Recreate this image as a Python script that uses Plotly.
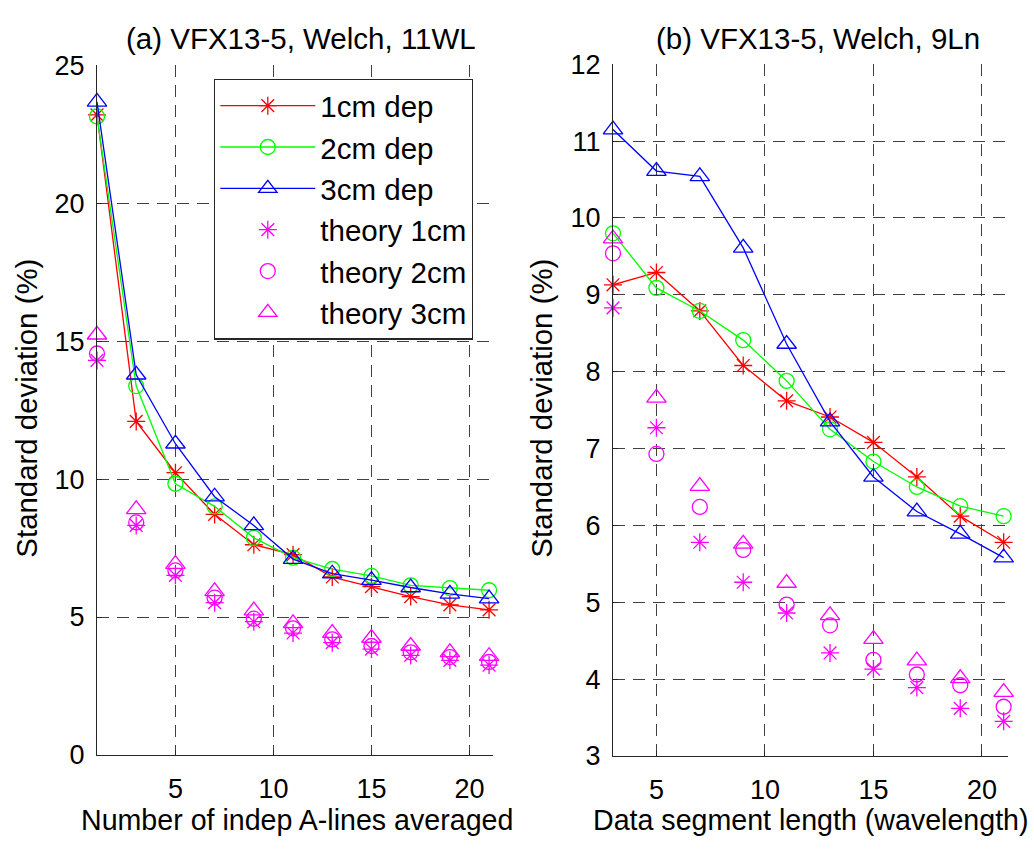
import plotly.graph_objects as go

# ---------------- data ----------------
x_a = [1, 3, 5, 7, 9, 11, 13, 15, 17, 19, 21]
dep1_a = [23.2, 12.09, 10.23, 8.72, 7.62, 7.26, 6.45, 6.10, 5.74, 5.44, 5.26]
dep2_a = [23.14, 13.37, 9.83, 9.01, 7.87, 7.15, 6.74, 6.49, 6.15, 6.05, 5.97]
dep3_a = [23.67, 13.78, 11.28, 9.36, 8.32, 7.10, 6.57, 6.34, 6.07, 5.84, 5.67]
th1_a = [14.30, 8.32, 6.51, 5.52, 4.83, 4.42, 4.07, 3.84, 3.61, 3.43, 3.26]
th2_a = [14.55, 8.43, 6.69, 5.70, 4.94, 4.59, 4.19, 3.95, 3.72, 3.55, 3.37]
th3_a = [15.23, 8.90, 6.92, 5.93, 5.23, 4.77, 4.42, 4.24, 3.95, 3.72, 3.58]

x_b = [3, 5, 7, 9, 11, 13, 15, 17, 19, 21]
dep1_b = [9.13, 9.29, 8.79, 8.08, 7.62, 7.41, 7.08, 6.63, 6.12, 5.78]
dep2_b = [9.80, 9.09, 8.79, 8.41, 7.88, 7.25, 6.83, 6.50, 6.25, 6.12]
dep3_b = [11.15, 10.61, 10.54, 9.61, 8.36, 7.35, 6.63, 6.18, 5.89, 5.58]
th1_b = [8.83, 7.27, 5.78, 5.26, 4.86, 4.34, 4.13, 3.89, 3.62, 3.45]
th2_b = [9.54, 6.93, 6.24, 5.68, 4.97, 4.70, 4.25, 4.06, 3.92, 3.64]
th3_b = [9.73, 7.66, 6.51, 5.76, 5.25, 4.83, 4.52, 4.24, 4.01, 3.83]

names = ["1cm dep", "2cm dep", "3cm dep", "theory 1cm", "theory 2cm", "theory 3cm"]
titles = ["(a) VFX13-5, Welch, 11WL", "(b) VFX13-5, Welch, 9Ln"]
xtitles = ["Number of indep A-lines averaged", "Data segment length (wavelength)"]
ytitle = "Standard deviation (%)"
yticks_a = [0, 5, 10, 15, 20, 25]
yticks_b = [3, 4, 5, 6, 7, 8, 9, 10, 11, 12]
xticks = [5, 10, 15, 20]

# ---------------- style ----------------
W, H = 1034, 852
FONT = "Liberation Sans, Arial, Helvetica, sans-serif"
RED, GREEN, BLUE, MAG = "#ff0000", "#00ff00", "#0000ff", "#ff00ff"
styles = [
    dict(color=RED, symbol="asterisk-open", size=15, mode="lines+markers"),
    dict(color=GREEN, symbol="circle-open", size=15, mode="lines+markers"),
    dict(color=BLUE, symbol="triangle-up-open", size=17, mode="lines+markers"),
    dict(color=MAG, symbol="asterisk-open", size=15, mode="markers"),
    dict(color=MAG, symbol="circle-open", size=15, mode="markers"),
    dict(color=MAG, symbol="triangle-up-open", size=17, mode="markers"),
]

fig = go.Figure()
series_a = [dep1_a, dep2_a, dep3_a, th1_a, th2_a, th3_a]
series_b = [dep1_b, dep2_b, dep3_b, th1_b, th2_b, th3_b]
for i, (ya, st) in enumerate(zip(series_a, styles)):
    fig.add_trace(go.Scatter(
        x=x_a, y=ya, name=names[i], mode=st["mode"],
        line=dict(color=st["color"], width=1.3),
        marker=dict(symbol=st["symbol"], size=st["size"], color=st["color"],
                    line=dict(color=st["color"], width=1.3)),
        xaxis="x", yaxis="y", showlegend=True, cliponaxis=False))
for i, (yb, st) in enumerate(zip(series_b, styles)):
    fig.add_trace(go.Scatter(
        x=x_b, y=yb, name=names[i], mode=st["mode"],
        line=dict(color=st["color"], width=1.3),
        marker=dict(symbol=st["symbol"], size=st["size"], color=st["color"],
                    line=dict(color=st["color"], width=1.3)),
        xaxis="x2", yaxis="y2", showlegend=False, cliponaxis=False))

def px(v):
    return v / W

def py(v):
    return 1 - v / H

axis_common = dict(
    showline=True, linecolor="#262626", linewidth=1.3,
    ticks="inside", ticklen=5, tickcolor="#262626", tickwidth=1,
    showgrid=True, gridcolor="#404040", gridwidth=1.3, griddash="12px,8px",
    zeroline=False, tickfont=dict(family=FONT, size=27, color="black"),
    mirror=False,
)

fig.update_layout(
    width=W, height=H,
    margin=dict(l=0, r=0, t=0, b=0),
    paper_bgcolor="white", plot_bgcolor="white",
    font=dict(family=FONT, color="black"),
    xaxis=dict(domain=[px(97), px(493)], range=[1, 21.2], tickvals=xticks,
               anchor="y", ticklabelstandoff=9, **axis_common),
    yaxis=dict(domain=[py(767), py(52)], range=[0, 25], tickvals=yticks_a,
               anchor="x", ticklabelstandoff=6, **axis_common),
    xaxis2=dict(domain=[px(613), px(1008)], range=[3, 21.2], tickvals=xticks,
                anchor="y2", ticklabelstandoff=9, **axis_common),
    yaxis2=dict(domain=[py(768), py(51)], range=[3, 12], tickvals=yticks_b,
                anchor="x2", ticklabelstandoff=6, **axis_common),
    legend=dict(x=px(214), y=py(66), xanchor="left", yanchor="top",
                bgcolor="white", bordercolor="#262626", borderwidth=1.3,
                font=dict(family=FONT, size=29.5, color="black"),
                itemwidth=95, tracegroupgap=0),
)

ann = []
for cx, t in zip([300.5, 817.5], titles):
    ann.append(dict(text=t, x=px(cx), y=py(24.5), xref="paper", yref="paper",
                    showarrow=False, font=dict(family=FONT, size=29.5),
                    xanchor="center", yanchor="middle"))
for cx, t in zip([297, 811], xtitles):
    ann.append(dict(text=t, x=px(cx), y=py(834), xref="paper", yref="paper",
                    showarrow=False, font=dict(family=FONT, size=28.6),
                    xanchor="center", yanchor="middle"))
for cx, cy in zip([27, 542], [408, 408]):
    ann.append(dict(text=ytitle, x=px(cx), y=py(cy), xref="paper", yref="paper",
                    showarrow=False, textangle=-90, font=dict(family=FONT, size=29.4),
                    xanchor="center", yanchor="middle"))
fig.update_layout(annotations=ann)

fig.write_html("out.html")
